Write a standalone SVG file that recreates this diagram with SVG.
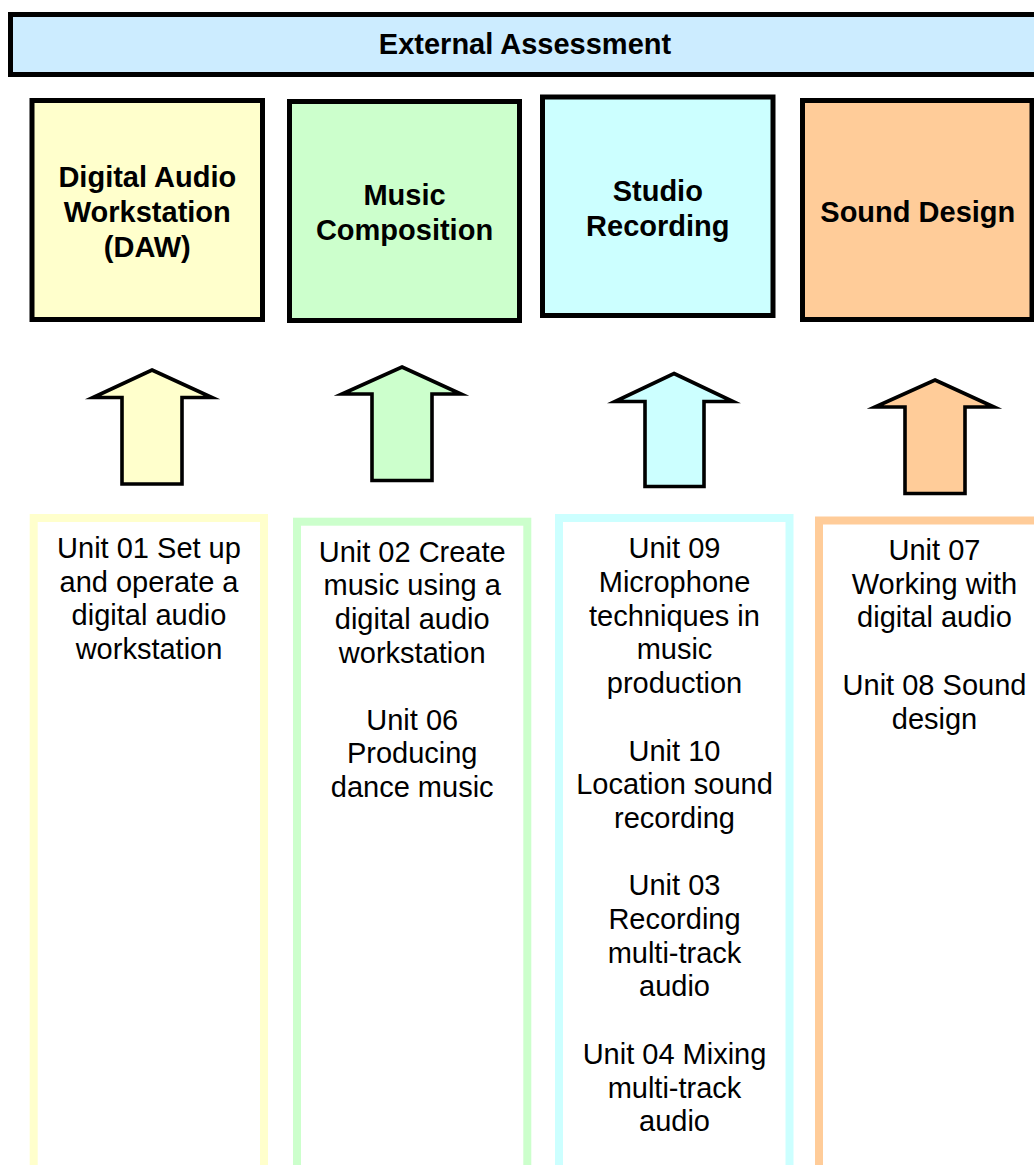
<svg xmlns="http://www.w3.org/2000/svg" width="1034" height="1165" viewBox="0 0 1034 1165">
<style>
.hdr{stroke:#000;stroke-width:5}
.unit{fill:#fff;stroke-width:8}
.arr{stroke:#000;stroke-width:3.6;stroke-linejoin:miter;stroke-miterlimit:20}
.b{font-family:"Liberation Sans",Arial,sans-serif;font-weight:bold;font-size:29px;fill:#000;text-anchor:middle}
.r{font-family:"Liberation Sans",Arial,sans-serif;font-size:29px;fill:#000;text-anchor:middle}
</style>
<rect width="1034" height="1165" fill="#fff"/>
<g id="external-assessment">
<rect class="hdr" x="10.5" y="14.5" width="1040" height="60" fill="#CCECFF"/>
<text class="b" x="525" y="53.5">External Assessment</text>
</g>
<g id="daw">
<rect class="hdr" x="32" y="100.5" width="230.5" height="219" fill="#FFFFCC"/>
<text class="b" x="147.3" y="187.3">Digital Audio</text>
<text class="b" x="147.3" y="222">Workstation</text>
<text class="b" x="147.3" y="256.7">(DAW)</text>
</g>
<g id="music-composition">
<rect class="hdr" x="289.5" y="101.5" width="230" height="219" fill="#CCFFCC"/>
<text class="b" x="404.5" y="204.5">Music</text>
<text class="b" x="404.5" y="239.5">Composition</text>
</g>
<g id="studio-recording">
<rect class="hdr" x="542.5" y="97" width="230.5" height="218.5" fill="#CCFFFF"/>
<text class="b" x="657.8" y="200.5">Studio</text>
<text class="b" x="657.8" y="235.5">Recording</text>
</g>
<g id="sound-design">
<rect class="hdr" x="802.5" y="100.5" width="229.5" height="219" fill="#FFCC99"/>
<text class="b" x="917.8" y="221.7">Sound Design</text>
</g>
<g id="connectors">
<polygon class="arr" fill="#FFFFCC" points="152,370 212,397.5 182,397.5 182,484 122,484 122,397.5 93,397.5"/>
<polygon class="arr" fill="#CCFFCC" points="402,367 461,394 432,394 432,480.5 372,480.5 372,394 342,394"/>
<polygon class="arr" fill="#CCFFFF" points="674,373.5 733,401.5 704,401.5 704,486.5 645,486.5 645,401.5 615,401.5"/>
<polygon class="arr" fill="#FFCC99" points="935,380 994,407 965,407 965,493.5 905,493.5 905,407 875,407"/>
</g>
<g id="unit-daw">
<rect class="unit" stroke="#FFFFCC" x="33.7" y="518" width="230.3" height="700"/>
<text class="r" x="149" y="558">Unit 01 Set up</text>
<text class="r" x="149" y="591.6">and operate a</text>
<text class="r" x="149" y="625.2">digital audio</text>
<text class="r" x="149" y="658.8">workstation</text>
</g>
<g id="unit-composition">
<rect class="unit" stroke="#CCFFCC" x="297" y="521.7" width="230.3" height="700"/>
<text class="r" x="412.2" y="561.7">Unit 02 Create</text>
<text class="r" x="412.2" y="595.3">music using a</text>
<text class="r" x="412.2" y="628.9">digital audio</text>
<text class="r" x="412.2" y="662.5">workstation</text>
<text class="r" x="412.2" y="729.7">Unit 06</text>
<text class="r" x="412.2" y="763.3">Producing</text>
<text class="r" x="412.2" y="796.9">dance music</text>
</g>
<g id="unit-studio">
<rect class="unit" stroke="#CCFFFF" x="559" y="518" width="230.5" height="700"/>
<text class="r" x="674.5" y="558.3">Unit 09</text>
<text class="r" x="674.5" y="592">Microphone</text>
<text class="r" x="674.5" y="625.7">techniques in</text>
<text class="r" x="674.5" y="659.4">music</text>
<text class="r" x="674.5" y="693.1">production</text>
<text class="r" x="674.5" y="760.5">Unit 10</text>
<text class="r" x="674.5" y="794.2">Location sound</text>
<text class="r" x="674.5" y="827.9">recording</text>
<text class="r" x="674.5" y="895.3">Unit 03</text>
<text class="r" x="674.5" y="929">Recording</text>
<text class="r" x="674.5" y="962.7">multi-track</text>
<text class="r" x="674.5" y="996.4">audio</text>
<text class="r" x="674.5" y="1063.8">Unit 04 Mixing</text>
<text class="r" x="674.5" y="1097.5">multi-track</text>
<text class="r" x="674.5" y="1131.2">audio</text>
</g>
<g id="unit-sound">
<rect class="unit" stroke="#FFCC99" x="819" y="520.5" width="230" height="700"/>
<text class="r" x="934.5" y="560">Unit 07</text>
<text class="r" x="934.5" y="593.7">Working with</text>
<text class="r" x="934.5" y="627.4">digital audio</text>
<text class="r" x="934.5" y="694.8">Unit 08 Sound</text>
<text class="r" x="934.5" y="728.5">design</text>
</g>
</svg>
